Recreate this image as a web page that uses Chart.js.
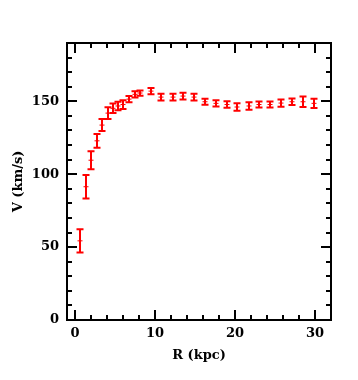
<!DOCTYPE html>
<html>
<head>
<meta charset="utf-8">
<script src="https://cdn.jsdelivr.net/npm/chart.js@4.4.0/dist/chart.umd.min.js"></script>
<style>
html,body{margin:0;padding:0;background:#fff;}
#wrap{width:358px;height:380px;position:relative;}
</style>
</head>
<body>
<div id="wrap"><canvas id="c" width="358" height="380"></canvas></div>
<script>
const radiusKpc = [0.66, 1.37, 2.0, 2.7, 3.4, 4.1, 4.7, 5.4, 6.0, 6.8, 7.5, 8.1, 9.5, 10.8, 12.2, 13.5, 14.9, 16.25, 17.6, 18.96, 20.3, 21.7, 23.0, 24.4, 25.75, 27.1, 28.5, 29.9];
const velocity = [54.3, 91.4, 109.6, 122.9, 133.7, 141.9, 145.2, 146.8, 147.8, 151.5, 154.8, 155.7, 157.0, 152.9, 152.9, 153.6, 152.9, 149.7, 148.6, 147.8, 146.1, 146.8, 147.8, 147.8, 148.8, 149.7, 149.7, 148.6];
const velocityErr = [8, 8, 6.2, 4.7, 4.1, 4.1, 3.3, 2.9, 3.0, 2.1, 2.1, 1.8, 2.2, 2.3, 2.3, 2.3, 2.3, 2.1, 2.2, 2.2, 2.6, 2.5, 2.1, 2.1, 2.5, 2.2, 3.6, 3.2];
const xTickLabels = [0, 10, 20, 30];
const yTickLabels = [0, 50, 100, 150];
const xMinorStep = 2, yMinorStep = 10;

const FONT = {family: "'DejaVu Serif', serif", size: 13, weight: 'bold'};

const framePlugin = {
  id: 'frame',
  afterDatasetsDraw(chart) {
    const ctx = chart.ctx, a = chart.chartArea;
    const xs = chart.scales.x, ys = chart.scales.y;
    ctx.save();
    // error bars
    ctx.strokeStyle = '#ff0000';
    for (let i = 0; i < radiusKpc.length; i++) {
      const px = Math.round(xs.getPixelForValue(radiusKpc[i]));
      const yt = ys.getPixelForValue(velocity[i] + velocityErr[i]);
      const yb = ys.getPixelForValue(velocity[i] - velocityErr[i]);
      const yc = ys.getPixelForValue(velocity[i]);
      ctx.lineWidth = 2;
      ctx.beginPath();
      ctx.moveTo(px, yt); ctx.lineTo(px, yb);
      ctx.moveTo(px - 3.5, yt); ctx.lineTo(px + 3.5, yt);
      ctx.moveTo(px - 3.5, yb); ctx.lineTo(px + 3.5, yb);
      ctx.stroke();
      ctx.lineWidth = 1;
      ctx.beginPath();
      ctx.moveTo(px - 2.5, yc); ctx.lineTo(px + 2.5, yc);
      ctx.stroke();
    }
    // frame
    ctx.strokeStyle = '#000';
    ctx.lineWidth = 2;
    ctx.strokeRect(a.left, a.top, a.right - a.left, a.bottom - a.top);
    // inward ticks
    ctx.beginPath();
    const xMaj = xTickLabels[1] - xTickLabels[0];
    for (let v = Math.ceil(xs.min / xMinorStep) * xMinorStep; v <= xs.max; v += xMinorStep) {
      const px = Math.round(xs.getPixelForValue(v));
      const len = (v % xMaj === 0) ? 10 : 5;
      ctx.moveTo(px, a.bottom); ctx.lineTo(px, a.bottom - len);
      ctx.moveTo(px, a.top); ctx.lineTo(px, a.top + len);
    }
    const yMaj = yTickLabels[1] - yTickLabels[0];
    for (let v = Math.ceil(ys.min / yMinorStep) * yMinorStep; v <= ys.max; v += yMinorStep) {
      const py = Math.round(ys.getPixelForValue(v));
      const len = (v % yMaj === 0) ? 10 : 5;
      ctx.moveTo(a.left, py); ctx.lineTo(a.left + len, py);
      ctx.moveTo(a.right, py); ctx.lineTo(a.right - len, py);
    }
    ctx.stroke();
    ctx.restore();
  }
};

new Chart(document.getElementById('c'), {
  type: 'scatter',
  data: {
    datasets: [{
      data: radiusKpc.map((r, i) => ({x: r, y: velocity[i]})),
      pointRadius: 0,
      pointHoverRadius: 0,
      showLine: false
    }]
  },
  options: {
    responsive: false,
    animation: false,
    events: [],
    layout: {padding: {top: 43, right: 27, left: 0, bottom: 0}},
    plugins: {legend: {display: false}, tooltip: {enabled: false}},
    scales: {
      x: {
        type: 'linear', min: -1, max: 32,
        grid: {display: false, drawTicks: false},
        border: {display: false},
        afterBuildTicks: s => { s.ticks = xTickLabels.map(v => ({value: v})); },
        afterFit: s => { s.height = 60; },
        ticks: {color: '#000', font: FONT, padding: 6, maxRotation: 0},
        title: {display: true, text: 'R (kpc)', color: '#000', font: FONT, padding: {top: 0, bottom: 17}}
      },
      y: {
        type: 'linear', min: 0, max: 190,
        grid: {display: false, drawTicks: false},
        border: {display: false},
        afterBuildTicks: s => { s.ticks = yTickLabels.map(v => ({value: v})); },
        afterFit: s => { s.width = 67; },
        ticks: {color: '#000', font: FONT, padding: 8},
        title: {display: true, text: 'V (km/s)', color: '#000', font: FONT, padding: {top: 11, bottom: 0}}
      }
    }
  },
  plugins: [framePlugin]
});
</script>
</body>
</html>
